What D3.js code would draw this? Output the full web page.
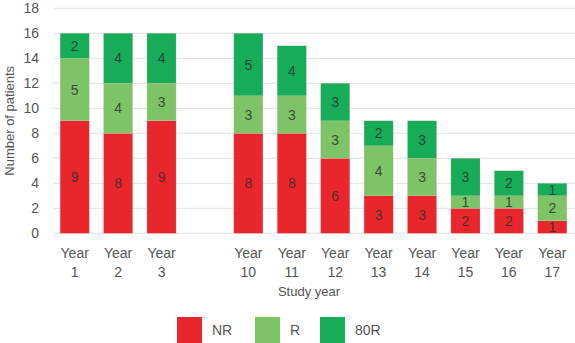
<!DOCTYPE html>
<html><head><meta charset="utf-8">
<script src="https://cdn.jsdelivr.net/npm/d3@7"></script>
<style>body{margin:0;background:#fff;} svg{display:block;font-family:Arial,"Liberation Sans",sans-serif;}</style>
</head><body><svg id="c" width="575" height="343"></svg>
<script>
const categories = ["Year 1","Year 2","Year 3","","Year 10","Year 11","Year 12","Year 13","Year 14","Year 15","Year 16","Year 17"];
const seriesNames = ["NR","R","80R"];
const NR   = [9,8,9,null,8,8,6,3,3,2,2,1];
const R    = [5,4,3,null,3,3,3,4,3,1,1,2];
const R80  = [2,4,4,null,5,4,3,2,3,3,2,1];
const yTicks = [0,2,4,6,8,10,12,14,16,18];
const colors = ["#E8262B","#7DC467","#16AC58"];

const svg = d3.select("#c");
const m = {l:53, r:1, t:8, b:110};
const W = 575, H = 343;
const x = d3.scaleBand().domain(categories.map((d,i)=>i)).range([m.l, W-m.r]).paddingInner(0.33).paddingOuter(0.165);
const y = d3.scaleLinear().domain([0,18]).range([233.3, 8.3]);

// gridlines
svg.append("g").selectAll("line").data(yTicks).join("line")
  .attr("x1", m.l).attr("x2", W).attr("y1", d=>y(d)).attr("y2", d=>y(d))
  .attr("stroke", "#e2e2e2").attr("stroke-width", 1);

// y axis
const ya = svg.append("g").attr("transform", `translate(${m.l},0)`)
  .call(d3.axisLeft(y).tickValues(yTicks).tickSize(0).tickPadding(14));
ya.select(".domain").remove();
ya.selectAll("text").attr("font-size", 14).attr("fill", "#555").attr("font-family","Arial,'Liberation Sans',sans-serif");

svg.append("text").attr("transform", `translate(14,${y(9)}) rotate(-90)`)
  .attr("text-anchor","middle").attr("font-size", 13).attr("fill","#555").text("Number of patients");

// stacks
const rows = categories.map((c,i)=>({i, NR:NR[i]||0, R:R[i]||0, "80R":R80[i]||0, empty: NR[i]==null}));
const stack = d3.stack().keys(seriesNames)(rows.filter(r=>!r.empty));
const g = svg.append("g");
stack.forEach((s,k)=>{
  g.selectAll(null).data(s).join("rect")
    .attr("x", d=>x(d.data.i)).attr("width", x.bandwidth())
    .attr("y", d=>y(d[1])).attr("height", d=>y(d[0])-y(d[1]))
    .attr("fill", colors[k]).attr("stroke","#f6b9b9").attr("stroke-width",0.5).attr("stroke-opacity",0.4);
  g.selectAll(null).data(s).join("text")
    .attr("x", d=>x(d.data.i)+x.bandwidth()/2).attr("y", d=>(y(d[0])+y(d[1]))/2)
    .attr("dy","0.36em").attr("text-anchor","middle").attr("font-size",14)
    .attr("fill","#2f2f2f").attr("fill-opacity",0.85)
    .text(d=>d[1]-d[0]);
});

// x labels
const xl = svg.append("g");
categories.forEach((c,i)=>{
  if(!c) return;
  const parts = c.split(" ");
  const t = xl.append("text").attr("x", x(i)+x.bandwidth()/2).attr("text-anchor","middle")
    .attr("font-size",14).attr("fill","#555");
  t.append("tspan").attr("x", x(i)+x.bandwidth()/2).attr("y", 258).text(parts[0]);
  t.append("tspan").attr("x", x(i)+x.bandwidth()/2).attr("y", 277).text(parts[1]);
});
svg.append("text").attr("x", 309).attr("y", 296).attr("text-anchor","middle")
  .attr("font-size",13).attr("fill","#555").text("Study year");

// legend
const legX = [177, 255, 320];
seriesNames.forEach((n,k)=>{
  svg.append("rect").attr("x", legX[k]).attr("y", 317).attr("width", 25).attr("height", 26).attr("fill", colors[k]);
  svg.append("text").attr("x", legX[k]+35).attr("y", 335).attr("font-size",14).attr("fill","#555").text(n);
});
</script></body></html>
